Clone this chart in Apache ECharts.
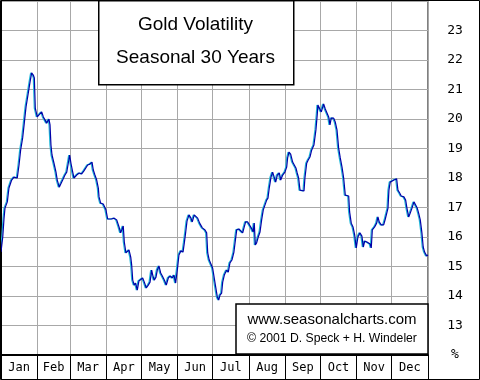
<!DOCTYPE html>
<html>
<head>
<meta charset="utf-8">
<script src="https://cdn.jsdelivr.net/npm/echarts@6/dist/echarts.min.js"></script>
<style>
html,body{margin:0;padding:0;background:#fff;}
#c{width:480px;height:380px;}
</style>
</head>
<body>
<div id="c"></div>
<script>
const months = ['Jan','Feb','Mar','Apr','May','Jun','Jul','Aug','Sep','Oct','Nov','Dec'];
const monthStarts = [0,31,59,90,120,151,181,212,243,273,304,334,365];
const yTicks = [12,13,14,15,16,17,18,19,20,21,22,23,24];
const titleLines = ['Gold Volatility','Seasonal 30 Years'];
const creditLines = ['www.seasonalcharts.com','\u00a9 2001 D. Speck + H. Windeler'];

const days = [0,1.5,2.6,3.4,5.4,6.8,9.1,11.1,13.9,15.4,16.8,18.5,19.9,21.4,23.3,24.8,26.2,27.6,28.5,29.3,
31.0,32.7,34.8,36.2,37.6,39.1,41.0,41.9,42.7,43.6,45.3,47.0,48.1,49.8,51.3,52.7,54.7,56.2,57.5,58.7,
59.8,61.3,62.4,64.7,66.9,69.0,70.9,72.6,74.1,76.1,77.8,78.9,80.3,81.8,83.2,83.8,85.2,87.4,89.7,91.2,
94.6,96.8,98.9,100.9,102.3,103.7,104.5,105.4,106.8,107.9,109.4,110.9,111.7,112.6,113.9,115.1,116.5,117.9,119.4,121.1,
122.5,124.2,125.9,127.4,128.8,129.7,131.0,132.5,133.6,135.0,136.5,137.9,139.6,141.3,143.0,144.7,146.4,147.9,149.3,151.0,
152.1,153.8,155.6,156.7,157.9,159.0,160.7,162.4,163.5,165.2,166.4,168.1,169.8,172.1,174.4,175.8,176.7,178.0,180.9,182.1,
183.5,184.9,186.1,187.2,188.6,189.5,190.9,192.9,194.3,195.7,197.4,199.1,200.6,201.5,203.4,205.1,206.6,207.7,209.1,210.9,
212.2,213.9,215.6,216.5,217.4,218.5,219.9,221.4,222.8,224.2,225.9,227.1,228.2,229.3,230.8,232.2,233.6,234.8,236.2,237.9,
239.1,240.8,242.7,244.2,245.0,246.2,247.6,249.3,250.7,252.1,253.2,254.4,255.6,257.3,259.0,259.8,261.3,262.6,264.1,265.6,
267.5,269.2,270.3,270.9,272.4,273.8,275.8,277.2,278.6,280.1,281.2,282.3,284.4,285.7,287.2,288.6,290.0,291.5,292.9,294.3,
296.0,297.2,298.0,299.4,300.9,302.3,303.7,305.1,306.8,308.5,309.7,310.9,312.8,314.3,315.6,316.5,317.4,319.4,321.1,322.2,
323.3,325.0,327.1,328.5,329.9,330.8,331.6,332.7,334.2,335.9,338.2,339.3,340.8,342.1,344.4,345.9,347.0,348.5,349.8,351.3,
353.0,354.7,355.8,357.0,358.4,359.8,360.9,362.1,363.8,365];

const vols = [15.49,16.0,16.64,16.98,17.19,17.66,17.93,18.03,18.0,18.44,18.95,19.36,19.86,20.41,20.88,21.25,21.56,21.49,21.39,20.37,
20.07,20.03,20.24,20.07,19.97,19.86,20.0,19.8,19.12,18.78,18.5,18.2,17.93,17.69,17.69,17.93,18.1,18.2,18.5,18.78,
18.5,18.2,18.0,18.1,18.17,18.14,18.24,18.2,18.44,18.47,18.54,18.27,18.1,17.93,17.66,17.36,17.15,17.12,16.92,16.61,
16.61,16.64,16.58,16.34,16.14,16.14,16.37,15.83,15.46,15.49,15.56,15.32,15.05,14.54,14.37,14.44,14.2,14.51,14.54,14.61,
14.47,14.27,14.37,14.47,14.88,14.71,14.54,14.64,14.88,15.02,14.78,14.68,14.54,14.37,14.61,14.68,14.61,14.71,14.44,14.98,
15.39,15.53,15.49,15.8,16.17,16.54,16.75,16.64,16.51,16.75,16.81,16.64,16.47,16.31,16.24,16.14,15.46,15.22,14.95,14.92,
14.31,13.97,13.86,14.03,14.1,14.47,14.71,14.88,14.81,15.12,15.22,15.49,15.97,16.24,16.27,16.24,16.14,16.31,16.51,16.51,
16.47,16.31,16.17,16.47,15.73,15.8,16.0,16.17,16.58,16.92,16.98,17.25,17.32,17.66,18.03,18.2,18.17,17.86,18.1,18.17,
17.93,18.1,18.2,18.37,18.68,18.88,18.81,18.54,18.44,18.34,18.17,18.0,17.59,17.53,17.56,18.0,18.5,18.61,18.71,18.95,
19.12,19.63,20.14,20.47,20.47,20.24,20.51,20.34,20.37,20.07,19.8,20.03,20.03,19.9,19.63,19.02,18.68,18.37,18.0,17.42,
17.36,17.39,16.85,16.47,16.34,16.07,15.63,16.0,16.14,16.03,15.66,15.86,15.83,15.83,15.76,15.63,16.24,16.34,16.47,16.68,
16.51,16.41,16.41,16.61,16.58,16.98,17.59,17.86,17.86,17.93,17.97,17.59,17.49,17.39,17.36,17.25,16.98,16.68,16.81,16.98,
17.19,17.15,16.98,16.81,16.58,16.14,15.66,15.49,15.36,15.39];

const seriesData = days.map((d, i) => [d, vols[i]]);
const monthMids = months.map((m, i) => (monthStarts[i] + monthStarts[i + 1]) / 2);

const chart = echarts.init(document.getElementById('c'), null, {renderer: 'canvas'});
const monoFont = 'DejaVu Sans Mono';
chart.setOption({
  animation: false,
  backgroundColor: '#fff',
  grid: {left: 1, right: 52, top: 1, bottom: 25, show: true, borderColor: '#000', borderWidth: 1},
  xAxis: {
    type: 'value', min: 0, max: 365,
    axisLine: {show: true, onZero: false, lineStyle: {color: '#000', width: 2}},
    axisTick: {show: true, customValues: monthStarts, length: 25, inside: false, lineStyle: {color: '#000', width: 1}},
    splitLine: {show: true, lineStyle: {color: '#a8a8a8', width: 1}},
    axisLabel: {
      customValues: monthMids, margin: 7, color: '#000', fontFamily: monoFont, fontSize: 12,
      formatter: v => { const i = monthMids.indexOf(v); return i >= 0 ? months[i] : ''; }
    }
  },
  yAxis: {
    type: 'value', position: 'right', min: yTicks[0], max: yTicks[yTicks.length - 1], interval: 1,
    axisLine: {show: true, lineStyle: {color: '#000', width: 1}},
    axisTick: {show: false},
    splitLine: {show: true, lineStyle: {color: '#a8a8a8', width: 1}},
    axisLabel: {
      margin: 27, align: 'center', color: '#000', fontFamily: monoFont, fontSize: 13,
      formatter: v => v === yTicks[0] ? '%' : (v === yTicks[yTicks.length - 1] ? '' : String(v))
    }
  },
  series: [{
    type: 'line', data: seriesData, showSymbol: false, symbol: 'none',
    lineStyle: {color: '#0000a8', width: 1.2, shadowColor: '#20b8d8', shadowOffsetX: -1, shadowOffsetY: 0, shadowBlur: 0}
  }],
  graphic: [
    {type: 'rect', left: 98, top: 0, shape: {width: 195, height: 84},
     style: {fill: '#fff', stroke: '#000', lineWidth: 1.5}, z: 100},
    {type: 'text', x: 195.5, y: 25, style: {text: titleLines[0], font: '19px "Liberation Sans"', fill: '#000', align: 'center', verticalAlign: 'middle'}, z: 101},
    {type: 'text', x: 195.5, y: 58, style: {text: titleLines[1], font: '19px "Liberation Sans"', fill: '#000', align: 'center', verticalAlign: 'middle'}, z: 101},
    {type: 'rect', shape: {x: 236, y: 304, width: 192, height: 50},
     style: {fill: '#fff', stroke: '#000', lineWidth: 1.5}, z: 100},
    {type: 'text', x: 332, y: 320, style: {text: creditLines[0], font: '15px "Liberation Sans"', fill: '#000', align: 'center', verticalAlign: 'middle'}, z: 101},
    {type: 'text', x: 332, y: 339, style: {text: creditLines[1], font: '12.2px "Liberation Sans"', fill: '#000', align: 'center', verticalAlign: 'middle'}, z: 101},
    {type: 'rect', shape: {x: 0.5, y: 0.5, width: 479, height: 379},
     style: {fill: 'none', stroke: '#000', lineWidth: 1}, z: 102}
  ]
});
</script>
</body>
</html>
